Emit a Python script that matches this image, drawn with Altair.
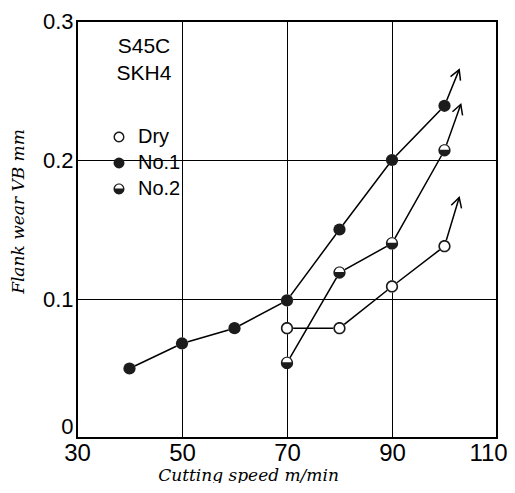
import math
import altair as alt
import pandas as pd

# ---- data ----
series_names = ["Dry", "No.1", "No.2"]

no1_speed = [40, 50, 60, 70, 80, 90, 100]
no1_wear = [0.050, 0.068, 0.079, 0.099, 0.150, 0.200, 0.239]

dry_speed = [70, 80, 90, 100]
dry_wear = [0.079, 0.079, 0.109, 0.138]

no2_speed = [70, 80, 90, 100]
no2_wear = [0.054, 0.119, 0.140, 0.207]

# arrow tips (end of the "continues upward" arrows)
tip_speed = {"Dry": 102.8, "No.1": 102.8, "No.2": 103.1}
tip_wear = {"Dry": 0.173, "No.1": 0.265, "No.2": 0.240}

x_ticks = [30, 50, 70, 90, 110]
y_ticks = [0, 0.1, 0.2, 0.3]
note_lines = ["S45C", "SKH4"]

W, H = 420, 417
X_DOM, Y_DOM = [30, 110], [0, 0.3]
px_x = W / (X_DOM[1] - X_DOM[0])
px_y = H / (Y_DOM[1] - Y_DOM[0])

rows = []
for name, xs, ys in [("Dry", dry_speed, dry_wear), ("No.1", no1_speed, no1_wear), ("No.2", no2_speed, no2_wear)]:
    for x, y in zip(xs, ys):
        rows.append({"series": name, "speed": x, "wear": y, "kind": "point", "angle": 0.0})
    dx = (tip_speed[name] - xs[-1]) * px_x
    dy = (tip_wear[name] - ys[-1]) * px_y
    ang = math.degrees(math.atan2(dx, dy))
    rows.append({"series": name, "speed": tip_speed[name], "wear": tip_wear[name], "kind": "tip", "angle": ang})
df = pd.DataFrame(rows)

RING = "M -1 0 A 1 1 0 1 1 1 0 A 1 1 0 1 1 -1 0 Z M -0.74 0 A 0.74 0.74 0 1 0 0.74 0 A 0.74 0.74 0 1 0 -0.74 0 Z"
HALF = "M -1 0 A 1 1 0 1 1 1 0 A 1 1 0 1 1 -1 0 Z M -0.74 -0.1 L 0.74 -0.1 A 0.74 0.74 0 0 0 -0.74 -0.1 Z"
ARROW = "M -0.55 1 L 0 0 L 0.55 1"

x_enc = alt.X("speed:Q", scale=alt.Scale(domain=X_DOM, nice=False, zero=False),
              axis=alt.Axis(values=x_ticks, title="Cutting speed m/min", grid=True, gridColor="black",
                            gridWidth=1, gridOpacity=1, ticks=False, domain=False,
                            labelFont="Liberation Sans", labelFontSize=24, labelColor="black",
                            labelPadding=3, labelFlush=False,
                            labelOffset={"expr": "datum.value == 110 ? -9 : 0"},
                            titleFont="DejaVu Serif", titleFontStyle="italic", titleFontWeight="normal",
                            titleFontSize=17, titleColor="black", titleX=171, titleY=37,
                            titleBaseline="middle"))
y_enc = alt.Y("wear:Q", scale=alt.Scale(domain=Y_DOM, nice=False, zero=True),
              axis=alt.Axis(values=y_ticks, format=".1~f", title="Flank wear VB mm", grid=True,
                            gridColor="black", gridWidth=1, gridOpacity=1, ticks=False, domain=False,
                            labelFont="Liberation Sans", labelFontSize=22, labelColor="black",
                            labelPadding=4, labelFlush=False,
                            labelBaseline={"expr": "datum.value == 0 ? 'bottom' : 'middle'"},
                            titleFont="DejaVu Serif", titleFontStyle="italic", titleFontWeight="normal",
                            titleFontSize=17, titleColor="black", titleX=-59, titleY=190,
                            titleBaseline="middle", titleAngle=270))

base = alt.Chart(df)

lines = base.mark_line(color="black", strokeWidth=1.5).encode(
    x=x_enc, y=y_enc, detail="series:N", order="speed:Q")

backing = base.transform_filter(alt.datum.kind == "point").mark_point(
    shape="circle", filled=True, color="white", size=150, opacity=1).encode(x="speed:Q", y="wear:Q")

markers = base.transform_filter(alt.datum.kind == "point").mark_point(
    filled=True, color="#1c1c1c", size=150, opacity=1, strokeWidth=0).encode(
    x="speed:Q", y="wear:Q",
    shape=alt.Shape("series:N", scale=alt.Scale(domain=series_names, range=[RING, "circle", HALF]),
                    legend=alt.Legend(orient="none", legendX=32, legendY=106, title=None,
                                      labelFont="Liberation Sans", labelFontSize=20, labelColor="black",
                                      symbolSize=120, rowPadding=6, labelOffset=9, padding=0,
                                      symbolFillColor="#1c1c1c", symbolStrokeWidth=0,
                                      symbolOpacity=1)))

arrows = base.transform_filter(alt.datum.kind == "tip").mark_point(
    shape=ARROW, filled=False, color="black", strokeWidth=1.5, size=380, opacity=1).encode(
    x="speed:Q", y="wear:Q", angle=alt.Angle("angle:Q", scale=None))

note = alt.Chart(pd.DataFrame({"note": ["\n".join(note_lines)]})).mark_text(
    font="Liberation Sans", fontSize=21, color="black", align="center", baseline="top",
    lineBreak="\n", lineHeight=27).encode(
    x=alt.value(67), y=alt.value(15), text="note:N")

chart = alt.layer(lines, backing, markers, arrows, note).properties(
    width=W, height=H,
    autosize=alt.AutoSizeParams(type="none"),
    padding={"left": 69, "top": 13, "right": 10, "bottom": 45},
    background="white",
).configure_view(stroke="black", strokeWidth=2)

chart.save("out.html", embed_options={"renderer": "svg", "actions": False})
